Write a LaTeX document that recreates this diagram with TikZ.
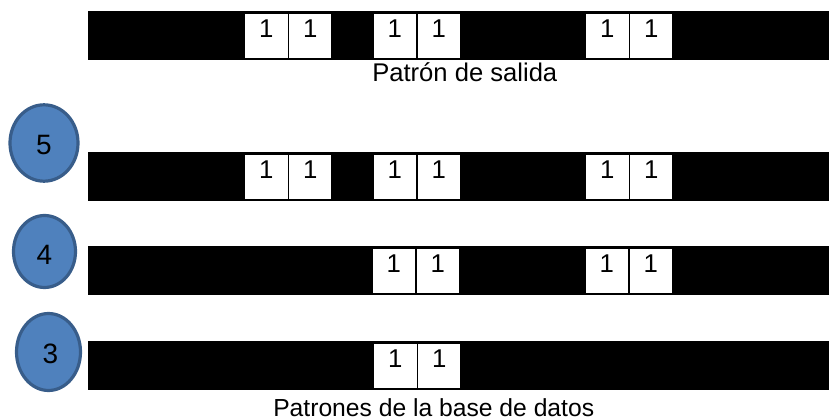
\documentclass[tikz,border=0pt]{standalone}
\usepackage{fontspec}
\setmainfont{Liberation Sans}
\usetikzlibrary{shapes.geometric}
\definecolor{circfill}{HTML}{4F81BD}
\definecolor{circline}{HTML}{385D8A}
\newcommand\mycellpair[3]{%
  \node[cell] (#1a) at (#2,#3+2.3) {1};
  \node[cell] (#1b) at (#2+43.8,#3+2.3) {1};}
\begin{document}
\begin{tikzpicture}[x=0.75pt,y=-0.75pt,
  bar/.style={fill=black, draw=none, minimum width=555.75pt, minimum height=36.75pt, inner sep=0pt, anchor=north west},
  cell/.style={fill=white, draw=none, minimum width=31.7pt, minimum height=33.3pt, inner sep=0pt, anchor=north west,
    font=\fontsize{19.3}{19.3}\selectfont, text height=17.6pt, text depth=15.7pt},
  num/.style={ellipse, fill=circfill, draw=circline, line width=2.4pt, inner sep=0pt, font=\fontsize{21}{21}\selectfont},
  caption/.style={inner sep=0pt, anchor=base west}]
\useasboundingbox (0,0) rectangle (829,420);
% bars
\node[bar] (bar0) at (88,11) {};
\node[bar] (bar5) at (88,152) {};
\node[bar] (bar4) at (88,246) {};
\node[bar] (bar3) at (88,341) {};
% cells
\mycellpair{r0A}{245}{11}
\mycellpair{r0B}{373.5}{11}
\mycellpair{r0C}{586}{11}
\mycellpair{r5A}{245}{152}
\mycellpair{r5B}{373.5}{152}
\mycellpair{r5C}{586}{152}
\mycellpair{r4B}{372.5}{246}
\mycellpair{r4C}{585.5}{246}
\mycellpair{r3B}{374}{341}
% circles
\node[num, minimum width=51pt, minimum height=57.3pt, text height=18pt] (c5) at (44,143) {5};
\node[num, minimum width=46.5pt, minimum height=54pt, text height=19.5pt] (c4) at (44.5,251.5) {4};
\node[num, minimum width=48pt, minimum height=57.75pt, text height=17pt] (c3) at (48.5,352) {\hspace{3pt}3};
% captions
\node[caption, font=\fontsize{19.2}{19.2}\selectfont] (out) at (372,82) {Patrón de salida};
\node[caption, font=\fontsize{18.5}{18.5}\selectfont] (db) at (273,416.7) {Patrones de la base de datos};
\end{tikzpicture}
\end{document}
